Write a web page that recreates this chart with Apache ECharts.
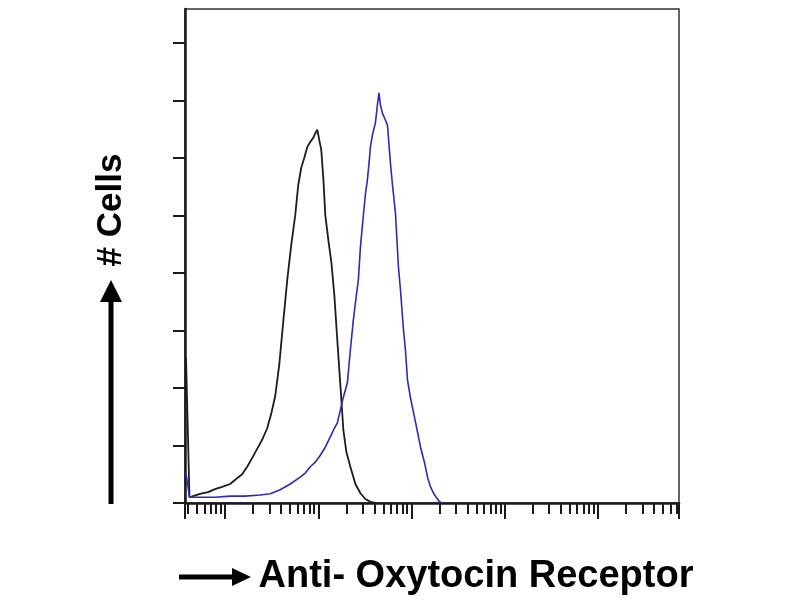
<!DOCTYPE html>
<html>
<head>
<meta charset="utf-8">
<title>Anti- Oxytocin Receptor</title>
<script src="https://cdn.jsdelivr.net/npm/echarts@6/dist/echarts.min.js"></script>
<style>
  html, body { margin: 0; padding: 0; background: #fff; }
  #main { width: 800px; height: 600px; }
</style>
</head>
<body>
<div id="main"></div>
<script>
// log10 intensity and cell counts
var controlLog = [0.581, 0.592, 0.602, 0.618, 0.656, 0.731, 0.817, 0.892, 0.968, 1.054, 1.129, 1.183, 1.237, 1.290, 1.344, 1.398, 1.452, 1.495, 1.538, 1.581, 1.624, 1.667, 1.710, 1.753, 1.785, 1.817, 1.849, 1.882, 1.914, 1.946, 1.968, 1.989, 2.000, 2.011, 2.032, 2.054, 2.075, 2.108, 2.140, 2.172, 2.204, 2.237, 2.269, 2.301, 2.344, 2.398, 2.452, 2.505, 2.559, 2.613];
var controlCount = [2.52, 2.52, 2.49, 0.10, 0.12, 0.16, 0.19, 0.24, 0.28, 0.33, 0.43, 0.50, 0.63, 0.78, 0.94, 1.10, 1.30, 1.55, 1.86, 2.40, 3.15, 3.88, 4.49, 5.01, 5.53, 5.83, 6.00, 6.19, 6.28, 6.35, 6.43, 6.49, 6.52, 6.31, 6.14, 5.65, 5.01, 4.57, 4.19, 3.62, 2.83, 2.05, 1.27, 0.89, 0.63, 0.33, 0.17, 0.07, 0.02, 0];

var antibodyLog = [0.581, 0.602, 0.618, 0.731, 0.892, 1.054, 1.215, 1.376, 1.484, 1.591, 1.699, 1.806, 1.860, 1.914, 1.968, 2.022, 2.075, 2.129, 2.172, 2.204, 2.237, 2.269, 2.312, 2.344, 2.376, 2.409, 2.430, 2.452, 2.484, 2.505, 2.527, 2.548, 2.559, 2.581, 2.613, 2.634, 2.651, 2.667, 2.688, 2.720, 2.742, 2.763, 2.774, 2.796, 2.828, 2.860, 2.882, 2.914, 2.935, 2.957, 2.989, 3.022, 3.065, 3.097, 3.140, 3.172, 3.204, 3.237, 3.269, 3.301, 3.333];
var antibodyCount = [0.52, 0.49, 0.10, 0.10, 0.10, 0.12, 0.12, 0.14, 0.16, 0.23, 0.33, 0.45, 0.52, 0.63, 0.71, 0.83, 0.97, 1.15, 1.30, 1.39, 1.62, 1.84, 2.09, 2.66, 3.18, 3.62, 3.88, 4.45, 5.01, 5.36, 5.62, 5.97, 6.19, 6.40, 6.61, 6.92, 7.13, 6.92, 6.78, 6.66, 6.57, 6.14, 5.91, 5.53, 5.04, 4.10, 3.70, 3.01, 2.66, 2.14, 1.83, 1.57, 1.23, 0.97, 0.70, 0.45, 0.28, 0.17, 0.09, 0.02, 0];

var xMin = 0.57, xMax = 5.87;
var yMax = 8.59;
var yTicks = [0, 1, 2, 3, 4, 5, 6, 7, 8];
var decades = [1, 2, 3, 4, 5];

var xTitle = 'Anti- Oxytocin Receptor';
var yTitle = '# Cells';

var pairs = function (xs, ys) {
    var out = [];
    for (var i = 0; i < xs.length; i++) out.push([xs[i], ys[i]]);
    return out;
};

// minor ticks of the log axis (2..9 in each decade)
var minorTicks = [];
for (var d = 0; d <= 5; d++) {
    for (var k = 2; k <= 9; k++) {
        var v = d + Math.log10(k);
        if (v > xMin && v < xMax) minorTicks.push(v);
    }
}
var majorTicks = [xMin].concat(decades, [xMax]);

var dom = document.getElementById('main');
var myChart = echarts.init(dom);
var option = {
    animation: false,
    backgroundColor: '#fff',
    grid: {
        left: 185, top: 9, right: 121, bottom: 97,
        show: true, borderColor: '#333', borderWidth: 1.5
    },
    xAxis: [{
        type: 'value', min: xMin, max: xMax, position: 'bottom',
        axisLine: { show: true, lineStyle: { color: '#1a1a1a', width: 2.5 } },
        axisTick: { show: true, customValues: majorTicks, length: 16, lineStyle: { color: '#1a1a1a', width: 2 } },
        axisLabel: { show: false },
        splitLine: { show: false }
    }, {
        type: 'value', min: xMin, max: xMax, position: 'bottom',
        axisLine: { show: false },
        axisTick: { show: true, customValues: minorTicks, length: 11, lineStyle: { color: '#1a1a1a', width: 2 } },
        axisLabel: { show: false },
        splitLine: { show: false }
    }],
    yAxis: {
        type: 'value', min: 0, max: yMax,
        axisLine: { show: true, lineStyle: { color: '#1a1a1a', width: 2.5 } },
        axisTick: { show: true, customValues: yTicks, length: 12, lineStyle: { color: '#1a1a1a', width: 2 } },
        axisLabel: { show: false },
        splitLine: { show: false }
    },
    series: [{
        name: 'control', type: 'line', xAxisIndex: 0,
        data: pairs(controlLog, controlCount),
        showSymbol: false,
        lineStyle: { color: '#1c1c1c', width: 1.8 },
        z: 3
    }, {
        name: 'antibody', type: 'line', xAxisIndex: 0,
        data: pairs(antibodyLog, antibodyCount),
        showSymbol: false,
        lineStyle: { color: '#2c2cb0', width: 1.6 },
        z: 4
    }],
    graphic: [
        // y title arrow
        { type: 'line', shape: { x1: 111, y1: 504, x2: 111, y2: 298 }, style: { stroke: '#000', lineWidth: 5 } },
        { type: 'polygon', shape: { points: [[100, 302], [122, 302], [111, 280]] }, style: { fill: '#000' } },
        {
            type: 'text', x: 111, y: 210, rotation: Math.PI / 2,
            style: { text: yTitle, font: 'bold 35px "Liberation Sans", Arial, sans-serif', fill: '#000', align: 'center', verticalAlign: 'middle' }
        },
        // x title arrow
        { type: 'line', shape: { x1: 179, y1: 577, x2: 236, y2: 577 }, style: { stroke: '#000', lineWidth: 5 } },
        { type: 'polygon', shape: { points: [[232, 568], [232, 586], [251, 577]] }, style: { fill: '#000' } },
        {
            type: 'text', x: 476, y: 577,
            style: { text: xTitle, font: 'bold 38px "Liberation Sans", Arial, sans-serif', fill: '#000', align: 'center', verticalAlign: 'middle' }
        }
    ]
};
if (option && typeof option === "object") {
    myChart.setOption(option, true);
}
</script>
</body>
</html>
